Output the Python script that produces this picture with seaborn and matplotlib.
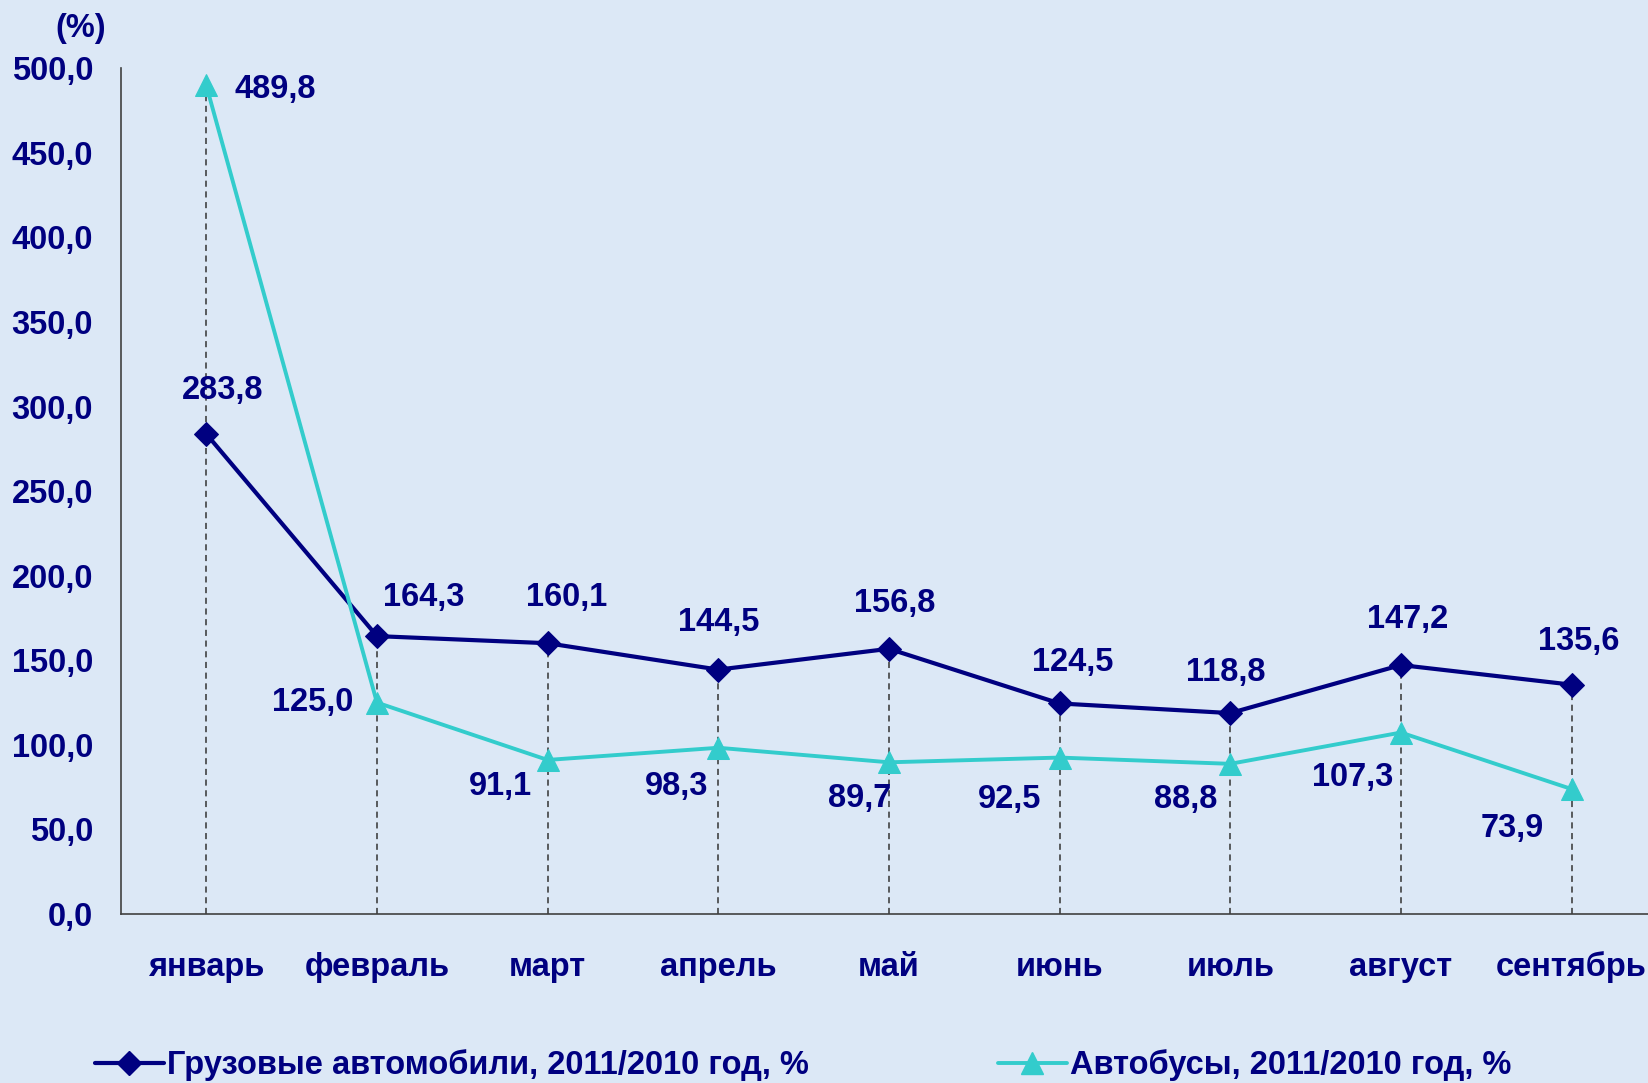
import numpy as np
import pandas as pd
import matplotlib
matplotlib.use("Agg")
import matplotlib.pyplot as plt
from matplotlib.ticker import FixedLocator, FuncFormatter
from matplotlib.lines import Line2D
import seaborn as sns

# данные
months = ["январь", "февраль", "март", "апрель", "май",
          "июнь", "июль", "август", "сентябрь"]
trucks = [283.8, 164.3, 160.1, 144.5, 156.8, 124.5, 118.8, 147.2, 135.6]
buses = [489.8, 125.0, 91.1, 98.3, 89.7, 92.5, 88.8, 107.3, 73.9]
trucks_name = "Грузовые автомобили, 2011/2010 год, %"
buses_name = "Автобусы, 2011/2010 год, %"
y_ticks = [0, 50, 100, 150, 200, 250, 300, 350, 400, 450, 500]

# смещения подписей (пиксели)
trucks_off = [(16, 43), (47, 39), (19, 46), (0, 47), (6, 45),
              (13, 41), (-5, 41), (7, 46), (7, 43)]
buses_off = [(69, -4), (-64, 0), (-47, -27), (-42, -39), (-29, -36),
             (-50, -42), (-45, -36), (-48, -45), (-59, -39)]

navy = "#000080"
teal = "#33CCCC"
bg = "#DCE8F6"
fs = 23.5

sns.set_style("white")
plt.rcParams["font.family"] = ["Liberation Sans", "DejaVu Sans"]
plt.rcParams["font.weight"] = "bold"

df = pd.DataFrame({"month": months, "trucks": trucks, "buses": buses})

fig = plt.figure(figsize=(16.48, 10.83), dpi=100, facecolor=bg)
ax = fig.add_axes([0.0734, 0.156, 0.932, 0.781])
ax.set_facecolor("none")

x = np.arange(len(months))

# пунктирные линии проекции
ax.vlines(x, 0, np.maximum(trucks, buses), colors="#333333",
          linestyles=(0, (4, 3)), linewidth=1.1, zorder=1)

sns.lineplot(data=df, x="month", y="trucks", sort=False, ax=ax,
             color=navy, linewidth=3, marker="D", markersize=12.5,
             markeredgecolor=navy, zorder=3)
sns.lineplot(data=df, x="month", y="buses", sort=False, ax=ax,
             color=teal, linewidth=2.8, marker="^", markersize=16,
             markeredgecolor=teal, zorder=3)

def fmt(v):
    return f"{v:.1f}".replace(".", ",")

for i, v in enumerate(trucks):
    ax.annotate(fmt(v), (i, v), xytext=trucks_off[i], textcoords="offset pixels",
                ha="center", va="center", fontsize=fs, fontweight="bold", color=navy)
for i, v in enumerate(buses):
    ax.annotate(fmt(v), (i, v), xytext=buses_off[i], textcoords="offset pixels",
                ha="center", va="center", fontsize=fs, fontweight="bold", color=navy)

ax.set_xlim(-0.5, len(months) - 0.5)
ax.set_ylim(0, 500)
ax.yaxis.set_major_locator(FixedLocator(y_ticks))
ax.yaxis.set_major_formatter(FuncFormatter(lambda v, p: fmt(v)))
ax.set_xticks(x)
ax.set_xticklabels(months)
ax.set_xticks(np.arange(-0.5, len(months), 1.0), minor=True)
ax.set_xlabel("")
ax.set_ylabel("")

for s in ["top", "right"]:
    ax.spines[s].set_visible(False)
for s in ["left", "bottom"]:
    ax.spines[s].set_color("#404040")
    ax.spines[s].set_linewidth(1.2)

ax.tick_params(axis="y", direction="out", length=7, width=1.2, color="#404040",
               pad=13, labelsize=fs, labelcolor=navy)
ax.tick_params(axis="x", which="major", length=0, pad=27, labelsize=fs,
               labelcolor=navy)
ax.tick_params(axis="x", which="minor", direction="out", length=7, width=1.2,
               color="#404040")
for lab in ax.get_xticklabels() + ax.get_yticklabels():
    lab.set_fontweight("bold")

fig.text(55 / 1648, 1 - 28 / 1083, "(%)", fontsize=fs, fontweight="bold",
         color=navy, ha="left", va="center")

# легенда
h1 = Line2D([], [], color=navy, linewidth=3, marker="D", markersize=12.5)
h2 = Line2D([], [], color=teal, linewidth=2.8, marker="^", markersize=16)
leg_y = 1 - 1065 / 1083
for h, name, lx in [(h1, trucks_name, 95 / 1648), (h2, buses_name, 998 / 1648)]:
    fig.legend(handles=[h], labels=[name], loc="center left",
               bbox_to_anchor=(lx, leg_y), frameon=False, borderpad=0,
               borderaxespad=0, handlelength=2.1, handletextpad=0.1,
               prop={"size": fs, "weight": "bold"}, labelcolor=navy)

fig.savefig("out.png", dpi=100, facecolor=bg)
